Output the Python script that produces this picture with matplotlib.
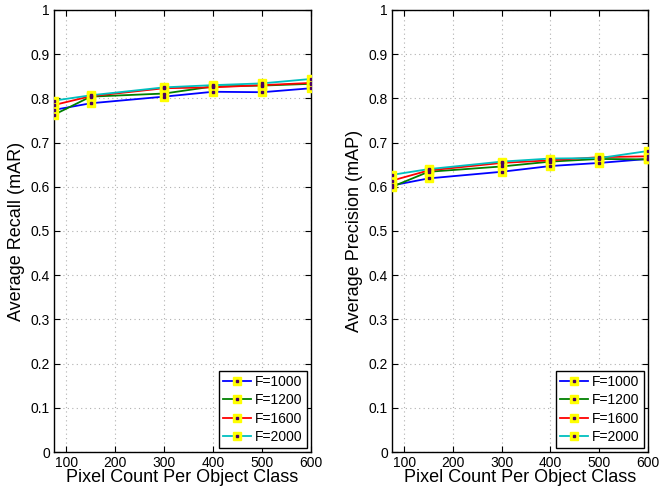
import matplotlib
matplotlib.use("Agg")
import matplotlib.pyplot as plt
from matplotlib.lines import Line2D
from matplotlib.legend_handler import HandlerTuple
from matplotlib.ticker import FormatStrFormatter

plt.rcParams['font.family'] = ['Liberation Sans', 'DejaVu Sans']

pixels = [75, 150, 300, 400, 500, 600]
series_names = ["F=1000", "F=1200", "F=1600", "F=2000"]
colors = ["#0000ff", "#008000", "#ff0000", "#00bfbf"]

recall = {
    "F=1000": [0.774, 0.789, 0.804, 0.815, 0.814, 0.823],
    "F=1200": [0.763, 0.804, 0.811, 0.827, 0.829, 0.833],
    "F=1600": [0.785, 0.805, 0.823, 0.825, 0.830, 0.835],
    "F=2000": [0.795, 0.807, 0.825, 0.830, 0.834, 0.844],
}
precision = {
    "F=1000": [0.603, 0.619, 0.634, 0.647, 0.654, 0.663],
    "F=1200": [0.600, 0.634, 0.646, 0.657, 0.663, 0.662],
    "F=1600": [0.614, 0.637, 0.654, 0.660, 0.667, 0.669],
    "F=2000": [0.627, 0.640, 0.657, 0.664, 0.665, 0.681],
}
x_ticks = [100, 200, 300, 400, 500, 600]
y_ticks = [0, 0.1, 0.2, 0.3, 0.4, 0.5, 0.6, 0.7, 0.8, 0.9, 1.0]

fig = plt.figure(figsize=(6.6, 4.9), dpi=100)
ax1 = fig.add_axes([54/660, 38/490, 257/660, 442/490])
ax2 = fig.add_axes([392/660, 38/490, 256/660, 442/490])

def draw(ax, data, ylabel):
    handles = []
    for name, c in zip(series_names, colors):
        ln, = ax.plot(pixels, data[name], color=c, lw=1.3, marker='s', ms=5.5,
                      mfc='yellow', mec='yellow', zorder=3)
        dt, = ax.plot(pixels, data[name], ls='none', marker='s', ms=1.6,
                      mfc='#4b0060', mec='#4b0060', zorder=4)
        handles.append((ln, dt))
    ax.set_xlim(75, 600)
    ax.set_ylim(0, 1)
    ax.set_xticks(x_ticks)
    ax.set_yticks(y_ticks)
    ax.yaxis.set_major_formatter(FormatStrFormatter('%g'))
    ax.grid(True, color='#b0b0b0', ls=(0, (1, 3)), lw=0.8)
    ax.tick_params(direction='in', length=4, width=0.8, labelsize=10, top=True, right=True,
                   pad=3)
    for s in ax.spines.values():
        s.set_linewidth(1.0)
    ax.set_xlabel("Pixel Count Per Object Class", fontsize=13, labelpad=-1)
    ax.set_ylabel(ylabel, fontsize=13, labelpad=4)
    leg = ax.legend(handles, series_names, loc='lower right', fontsize=10,
                    handler_map={tuple: HandlerTuple(ndivide=1)}, fancybox=False,
                    edgecolor='black', framealpha=1, borderaxespad=0.3,
                    handlelength=2.0, handletextpad=0.3, labelspacing=0.3,
                    borderpad=0.3)
    leg.get_frame().set_linewidth(1.0)

draw(ax1, recall, "Average Recall (mAR)")
draw(ax2, precision, "Average Precision (mAP)")

fig.savefig("out.png", dpi=100)
